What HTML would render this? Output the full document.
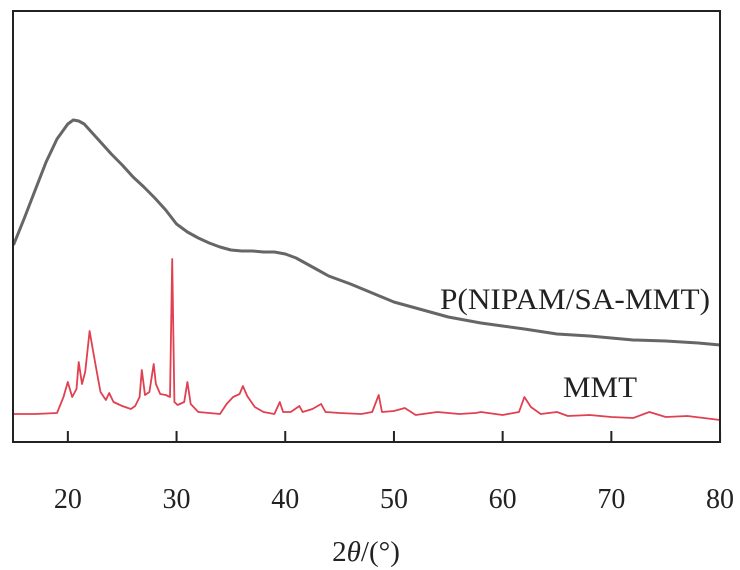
<!DOCTYPE html>
<html><head><meta charset="utf-8"><style>
body{margin:0;background:#fff}
svg{display:block;font-family:"Liberation Serif",serif}
</style></head><body>
<svg id="chart" width="740" height="570" viewBox="0 0 740 570">
<g id="plot"></g>
<rect x="13" y="11" width="707" height="431" fill="none" stroke="#222" stroke-width="2"/>
<g id="ticks"></g>
<text x="440" y="309" font-size="30" textLength="270" lengthAdjust="spacingAndGlyphs" fill="#222">P(NIPAM/SA-MMT)</text>
<text x="563" y="397" font-size="30" textLength="74" lengthAdjust="spacingAndGlyphs" fill="#222">MMT</text>
<text x="366" y="561" font-size="29" fill="#222" text-anchor="middle">2<tspan font-style="italic">θ</tspan>/(°)</text>
</svg>
<script>
const xTicks=[20,30,40,50,60,70,80];
const grayX=[15,16,17,18,19,20,20.5,21,21.5,22,23,24,25,26,27,28,29,30,31,32,33,34,35,36,37,38,39,40,41,42,43,44,45,46,48,50,52,55,58,60,62,65,68,70,72,75,78,80];
const grayY=[197,224,252,280,303,318,322,321,318,312,300,288,277,265,255,244,232,218,210,204,199,195,192,191,191,190,190,188,184,178,172,166,162,158,149,140,134,125,119,116,113,108,106,104,102,101,99,97];
const redX=[15,17,19,19.6,20,20.4,20.8,21,21.3,21.6,22,22.3,22.7,23,23.5,23.8,24.2,25,25.8,26.2,26.6,26.8,27.1,27.5,27.9,28.1,28.5,29,29.4,29.6,29.8,30.1,30.7,31,31.3,32,33,34,34.6,35.2,35.8,36.1,36.5,37.2,38,39,39.5,39.8,40.5,41.3,41.6,42.5,43.3,43.7,45,47,48,48.6,48.9,50,51,52,54,56,57.5,58,60,61.5,62,62.6,63.5,65,66,68,70,72,73.5,75,77,80];
const redY=[28,28,29,45,60,45,53,80,58,70,111,92,68,50,42,49,40,36,33,36,45,72,47,50,78,58,48,47,45,183,40,37,40,60,38,30,29,28,38,45,48,56,46,35,30,28,40,30,30,36,30,33,38,30,29,28,30,47,30,31,34,27,30,28,29,30,27,30,45,35,28,30,26,27,25,24,30,25,26,22];
const X0=13.5,SX=10.87,Y0=442;
const xs=v=>X0+(v-15)*SX, ys=v=>Y0-v;
const NS='http://www.w3.org/2000/svg';
const plot=document.getElementById('plot'), ticks=document.getElementById('ticks');
function line(xa,ya,color,w,name){
  const p=document.createElementNS(NS,'polyline');
  p.setAttribute('points',xa.map((x,i)=>xs(x).toFixed(1)+','+ys(ya[i]).toFixed(1)).join(' '));
  p.setAttribute('fill','none');p.setAttribute('stroke',color);p.setAttribute('stroke-width',w);p.setAttribute('stroke-linejoin','round');
  
  
  plot.appendChild(p);
}
line(grayX,grayY,'#666','3','series-p-nipam-sa-mmt');
line(redX,redY,'#e04050','1.8','series-mmt');
xTicks.forEach(t=>{
  const l=document.createElementNS(NS,'line');
  l.setAttribute('x1',xs(t));l.setAttribute('x2',xs(t));l.setAttribute('y1',431);l.setAttribute('y2',442);
  l.setAttribute('stroke','#222');l.setAttribute('stroke-width','2');
  
  
  ticks.appendChild(l);
  const tx=document.createElementNS(NS,'text');
  tx.setAttribute('x',xs(t));tx.setAttribute('y',508);tx.setAttribute('text-anchor','middle');
  tx.setAttribute('font-size','28');tx.setAttribute('fill','#222');tx.textContent=t;
  
  
  ticks.appendChild(tx);
});
</script>
</body></html>
